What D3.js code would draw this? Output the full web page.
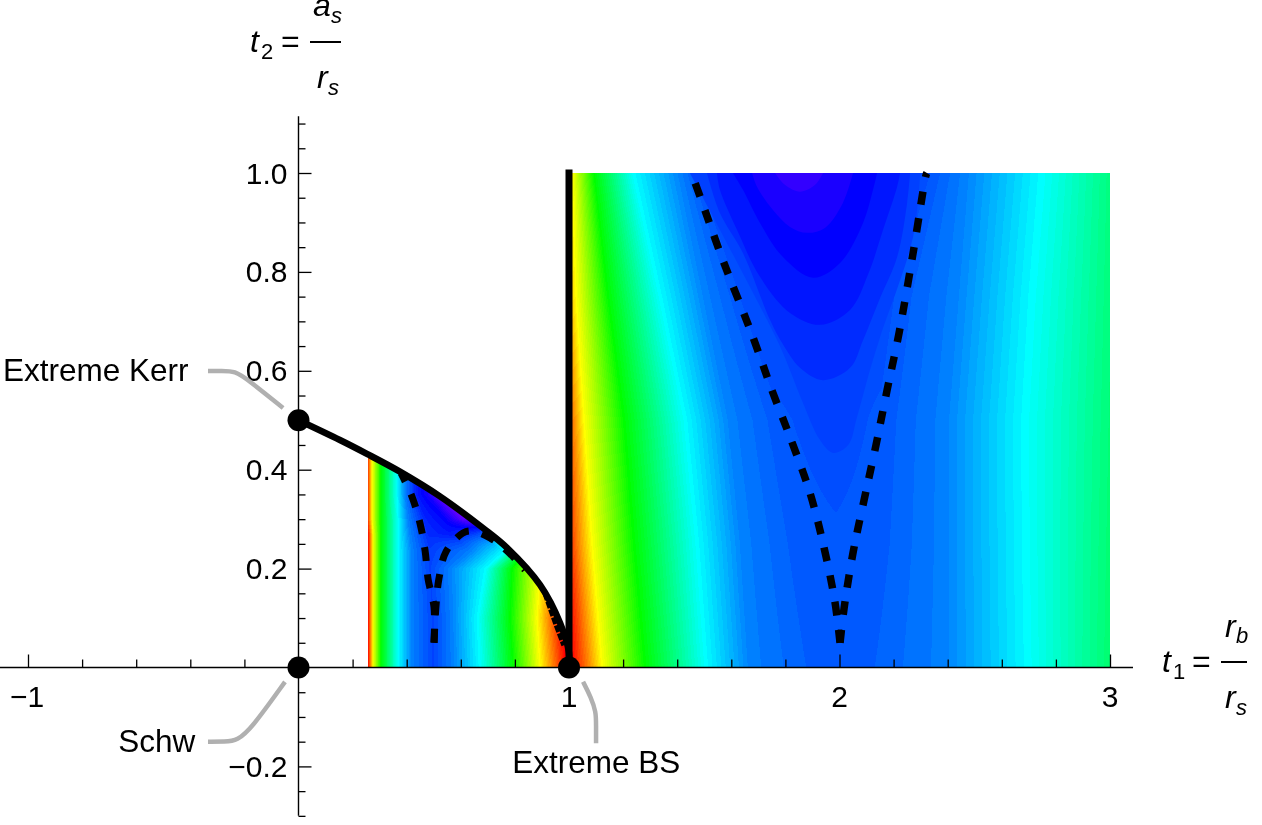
<!DOCTYPE html>
<html><head><meta charset="utf-8">
<script src="https://cdnjs.cloudflare.com/ajax/libs/d3/7.8.5/d3.min.js"></script>
<style>
html,body{margin:0;padding:0;background:#fff;overflow:hidden}
#wrap{position:relative;width:1262px;height:825px}
canvas,svg{position:absolute;left:0;top:0}
text{font-family:"Liberation Sans",Arial,sans-serif;fill:#000}
</style></head><body><div id="wrap"><canvas id="c" width="1262" height="825"></canvas><svg id="s" width="1262" height="825"></svg></div>
<script>
// ---- tick values and labels
const xMajor=[-1,0,1,2,3];
const xMinor=[-0.8,-0.6,-0.4,-0.2,0.2,0.4,0.6,0.8,1.2,1.4,1.6,1.8,2.2,2.4,2.6,2.8];
const xLabelVals=[-1,1,2,3];
const xLabelText=["\u22121","1","2","3"];
const yMajor=[-0.2,0,0.2,0.4,0.6,0.8,1.0];
const yMinor=[-0.3,-0.25,-0.15,-0.1,-0.05,0.05,0.1,0.15,0.25,0.3,0.35,0.45,0.5,0.55,0.65,0.7,0.75,0.85,0.9,0.95,1.05,1.1];
const yLabelVals=[-0.2,0.2,0.4,0.6,0.8,1.0];
const yLabelText=["\u22120.2","0.2","0.4","0.6","0.8","1.0"];

// ---- hue field, right region: t1 positions of hue knots per t2 row
const rightT2=[0,0.25,0.5,0.75,1];
const rightT1=[
 [1.011,1.070,1.122,1.281,1.506,1.669,1.891,2.002,2.113,2.390,2.697,3.0],
 [0.989,1.033,1.085,1.240,1.473,1.640,1.854,1.994,2.131,2.390,2.689,3.0],
 [0.974,1.015,1.055,1.203,1.429,1.595,1.780,1.965,2.150,2.390,2.686,3.0],
 [0.948,0.985,1.026,1.144,1.336,1.503,1.650,1.909,2.170,2.427,2.712,3.0],
 [0.930,0.967,1.011,1.092,1.237,1.410,1.484,1.854,2.317,2.464,2.749,3.0]];
const rightHue=[
 [0,30,60,120,180,210,218,218,218,210,180,146],
 [0,30,60,120,180,210,219.5,220,219.5,210,180,147],
 [0,30,60,120,180,210,220,222,220,210,180,148],
 [0,30,60,120,180,210,222,222,222,210,180,149],
 [0,30,60,120,180,210,222,222,222,210,180,150]];

// ---- deeper flat contour levels in the right region: hue and outline (t1,t2)
const contourHue=[225,230,235,240,246,252];
const contour225=[[1.447,1],[1.732,0.703],[1.791,0.636],[1.865,0.535],[1.928,0.46],[1.976,0.434],[2.032,0.45],[2.065,0.507],[2.113,0.602],[2.15,0.668],[2.272,0.871],[2.298,1]];
const contour230=[[1.51,1],[1.558,0.919],[1.643,0.838],[1.743,0.703],[1.788,0.656],[1.854,0.606],[1.939,0.581],[2.039,0.606],[2.087,0.662],[2.15,0.747],[2.213,0.83],[2.25,0.94],[2.261,1]];
const contour235=[[1.547,1],[1.558,0.966],[1.621,0.885],[1.706,0.79],[1.817,0.717],[1.928,0.693],[2.039,0.723],[2.105,0.794],[2.161,0.885],[2.213,0.972],[2.224,1]];
const contour240=[[1.606,1],[1.643,0.966],[1.706,0.899],[1.791,0.83],[1.902,0.788],[2.002,0.818],[2.087,0.899],[2.124,0.966],[2.139,1]];
const contour246=[[1.677,1],[1.695,0.972],[1.754,0.925],[1.817,0.891],[1.88,0.879],[1.946,0.889],[2.013,0.94],[2.05,1]];
const contour252=[[1.762,1],[1.798,0.976],[1.854,0.962],[1.91,0.976],[1.939,1]];

// ---- hue field, left region
const leftT2=[0,0.1,0.2,0.235,0.27,0.3,0.35,0.43];
const leftT1=[
 [0.257,0.275,0.305,0.368,0.420,0.497,0.571,0.671,0.793,0.893,0.989],
 [0.257,0.275,0.305,0.368,0.420,0.497,0.567,0.663,0.782,0.882,0.974],
 [0.257,0.275,0.305,0.368,0.420,0.486,0.560,0.693,0.789,0.893,0.985],
 [0.257,0.275,0.305,0.368,0.420,0.486,0.634,0.763,0.837,0.893,0.989],
 [0.257,0.275,0.305,0.368,0.412,0.479,0.560,0.652,0.734,0.819,0.930],
 [0.253,0.272,0.305,0.368,0.405,0.468,0.542,0.608,0.671,0.745,0.819],
 [0.253,0.272,0.305,0.364,0.394,0.438,0.479,0.523,0.597,0.671,0.745],
 [0.253,0.272,0.305,0.364,0.394,0.438,0.479,0.523,0.597,0.671,0.745]];
const leftHue=[
 [0,60,120,180,210,224,210,180,120,60,0],
 [0,60,120,180,210,224,210,180,120,60,0],
 [0,60,120,180,210,224,210,180,120,60,0],
 [0,60,120,180,210,226,210,180,120,60,0],
 [0,60,120,180,210,230,235,225,208,190,120],
 [0,60,120,180,210,232,240,262,268,268,268],
 [0,60,120,180,210,235,245,268,272,272,272],
 [0,60,120,180,210,235,245,268,272,272,272]];

// ---- curves (t1,t2)
const extremalCurve=[[0,0.5],[0.153,0.46],[0.253,0.432],[0.375,0.396],[0.523,0.346],[0.682,0.282],[0.771,0.242],[0.893,0.167],[0.967,0.09],[1,0.03],[1,0]];
const jaggedEdge=[[0.911,0.15],[0.933,0.116],[0.955,0.082],[0.981,0.045]];
const dashA=[[2.002,0.05],[1.983,0.133],[1.943,0.242],[1.891,0.353],[1.824,0.456],[1.75,0.561],[1.68,0.668],[1.566,0.828],[1.462,0.986],[1.451,1]];
const dashB=[[2.002,0.05],[2.017,0.12],[2.05,0.232],[2.091,0.339],[2.135,0.45],[2.176,0.561],[2.22,0.676],[2.272,0.838],[2.32,0.996],[2.323,1]];
const dashC=[[0.501,0.05],[0.501,0.122],[0.479,0.179],[0.468,0.236],[0.449,0.292],[0.42,0.345],[0.379,0.393]];
const dashD=[[0.501,0.05],[0.508,0.122],[0.519,0.179],[0.545,0.234],[0.608,0.272],[0.645,0.276],[0.708,0.262],[0.771,0.236],[0.837,0.197]];
const extremeLine=[[1,0],[1,1.007]];
const dots=[[0,0.5],[0,0],[1,0]];
const calloutKerr=[[-0.3346,0.5996],[-0.283,0.5996],[-0.235,0.5996],[-0.187,0.582],[-0.057,0.525]];
const calloutSchw=[[-0.3346,-0.15],[-0.272,-0.15],[-0.227,-0.148],[-0.172,-0.122],[-0.05,-0.029]];
const calloutBS=[[1.1,-0.153],[1.1,-0.116],[1.1,-0.09],[1.081,-0.06],[1.052,-0.029]];
const notes=[["Extreme Kerr",-1.0925,0.579],["Schw",-0.666,-0.17],["Extreme BS",0.79,-0.213]];

// ---- scales
const x=d3.scaleLinear().domain([-1,3]).range([28,1110]);
const y=d3.scaleLinear().domain([0,1]).range([667.5,173]);
const cache=new Map();
function color(h){const q=Math.round(h/3)*3;
  if(!cache.has(q))cache.set(q,d3.hsl(q,1,0.5).formatRgb());return cache.get(q);}
function rowScale(T2,T1,H,t){
  let i=Math.min(T2.length-2,Math.max(0,d3.bisectRight(T2,t)-1));
  const f=Math.max(0,Math.min(1,(t-T2[i])/(T2[i+1]-T2[i])));
  return d3.scaleLinear().domain(d3.interpolate(T1[i],T1[i+1])(f)).range(d3.interpolate(H[i],H[i+1])(f)).clamp(true);
}
const ctx=document.getElementById('c').getContext('2d');
ctx.fillStyle='#fff';ctx.fillRect(0,0,1262,825);
const edge=d3.scaleLinear().domain(extremalCurve.slice(0,-1).map(d=>d[0])).range(extremalCurve.slice(0,-1).map(d=>d[1]));
for(let py=Math.round(y(1));py<Math.round(y(0));py++){
  const t=y.invert(py+0.5);
  const R=rowScale(rightT2,rightT1,rightHue,t);
  for(let px=Math.round(x(1));px<Math.round(x(3));px++){ctx.fillStyle=color(R(x.invert(px+0.5)));ctx.fillRect(px,py,1,1);}
  if(t<0.44){
    const L=rowScale(leftT2,leftT1,leftHue,t);
    for(let px=Math.round(x(0.257));px<Math.round(x(1));px++){
      const u=x.invert(px+0.5);
      if(t<=edge(u)){ctx.fillStyle=color(L(u));ctx.fillRect(px,py,1,1);}
    }
  }
}
// ---- svg
const svg=d3.select('#s');
const line=d3.line().x(d=>x(d[0])).y(d=>y(d[1]));
const smooth=d3.line().x(d=>x(d[0])).y(d=>y(d[1])).curve(d3.curveCatmullRom.alpha(0.5));
const basis=d3.line().x(d=>x(d[0])).y(d=>y(d[1])).curve(d3.curveBasis);
[contour225,contour230,contour235,contour240,contour246,contour252].forEach((c,i)=>{
  svg.append('path').attr('d',smooth(c)).attr('fill',d3.hsl(contourHue[i],1,0.5).formatRgb()).attr('stroke','none');
});
// dashed curves
[[dashA,7.5,"13 14.5 14 13.7"],[dashB,7.5,"13 15 14 13.7"],[dashC,7,"14 13.5"],[dashD,7,"14 13.5"]].forEach(([p,w,da])=>{
  svg.append('path').attr('d',smooth(p)).attr('fill','none').attr('stroke','#000').attr('stroke-width',w).attr('stroke-dasharray',da);
});
svg.append('path').attr('d',line(jaggedEdge)).attr('fill','none').attr('stroke','#000').attr('stroke-width',5).attr('stroke-dasharray','7 1.5');
// axes
function styleAxis(g){g.select('.domain').remove();g.selectAll('line').attr('stroke','#000').attr('stroke-width',1.3);g.selectAll('text').remove();}
svg.append('line').attr('x1',x(-1.1035)).attr('x2',x(3.085)).attr('y1',y(0)).attr('y2',y(0)).attr('stroke','#000').attr('stroke-width',1.4);
svg.append('line').attr('x1',x(0)).attr('x2',x(0)).attr('y1',y(1.115)).attr('y2',y(-0.3)).attr('stroke','#000').attr('stroke-width',1.4);
svg.append('g').attr('transform',`translate(0,${y(0)})`).call(d3.axisTop(x).tickValues(xMajor.filter(d=>d)).tickSize(13).tickSizeOuter(0)).call(styleAxis);
svg.append('g').attr('transform',`translate(0,${y(0)})`).call(d3.axisTop(x).tickValues(xMinor).tickSize(8).tickSizeOuter(0)).call(styleAxis);
svg.append('g').attr('transform',`translate(${x(0)},0)`).call(d3.axisRight(y).tickValues(yMajor.filter(d=>d)).tickSize(13).tickSizeOuter(0)).call(styleAxis);
svg.append('g').attr('transform',`translate(${x(0)},0)`).call(d3.axisRight(y).tickValues(yMinor).tickSize(7).tickSizeOuter(0)).call(styleAxis);
const FS=30;
xLabelVals.forEach((v,i)=>svg.append('text').attr('x',x(v)-(v<0?1:0)).attr('y',y(0)+39.5).attr('text-anchor','middle').attr('font-size',FS).text(xLabelText[i]));
yLabelVals.forEach((v,i)=>svg.append('text').attr('x',x(0)-11).attr('y',y(v)+10.5).attr('text-anchor','end').attr('font-size',FS).text(yLabelText[i]));
// solid curves
svg.append('path').attr('d',smooth(extremalCurve)).attr('fill','none').attr('stroke','#000').attr('stroke-width',6.5);
svg.append('path').attr('d',line(extremeLine)).attr('fill','none').attr('stroke','#000').attr('stroke-width',7);
svg.selectAll('.dot').data(dots).enter().append('circle').attr('class','dot').attr('cx',d=>x(d[0])).attr('cy',d=>y(d[1])).attr('r',11).attr('fill','#000');
// callouts
[calloutKerr,calloutSchw,calloutBS].forEach(p=>svg.append('path').attr('d',basis(p)).attr('fill','none').attr('stroke','#b0b0b0').attr('stroke-width',4.5));
notes.forEach(n=>svg.append('text').attr('x',x(n[1])).attr('y',y(n[2])).attr('font-size',31.5).text(n[0]));
// axis titles
function T(px,py,s,o={}){const e=svg.append('text').attr('x',px).attr('y',py).attr('font-size',o.fs||32).text(s);if(o.it)e.attr('font-style','italic');return e;}
T(250,52,'t',{it:1});T(261,59,'2',{fs:22});T(281,52,'=');
svg.append('rect').attr('x',310).attr('y',41).attr('width',31).attr('height',2).attr('fill','#000');
T(313,16,'a',{it:1});T(331,23,'s',{fs:22,it:1});T(317,88,'r',{it:1});T(328,95,'s',{fs:22,it:1});
T(1162,672,'t',{it:1});T(1173,679,'1',{fs:22});T(1192,672,'=');
svg.append('rect').attr('x',1221).attr('y',661).attr('width',26).attr('height',2).attr('fill','#000');
T(1225,637,'r',{it:1});T(1236,643,'b',{fs:22,it:1});T(1225,708,'r',{it:1});T(1236,715,'s',{fs:22,it:1});
</script></body></html>
